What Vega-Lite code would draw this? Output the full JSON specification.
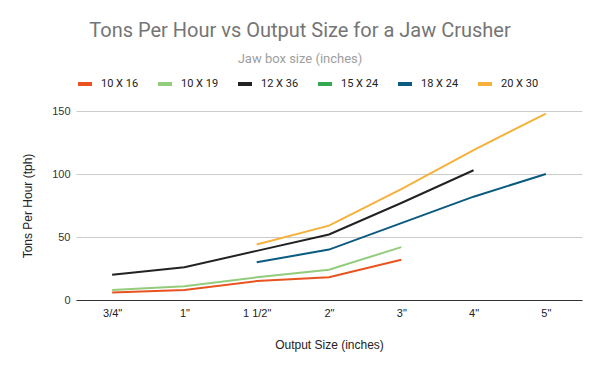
{
  "$schema": "https://vega.github.io/schema/vega-lite/v6.json",
  "autosize": {"type": "none"},
  "width": 506,
  "height": 189,
  "padding": {"left": 76, "top": 111, "right": 18, "bottom": 71},
  "background": "white",
  "title": {
    "text": "Tons Per Hour vs Output Size for a Jaw Crusher",
    "subtitle": "Jaw box size (inches)",
    "anchor": "middle",
    "dx": -29,
    "offset": 9,
    "font": "Roboto",
    "fontSize": 20,
    "fontWeight": "normal",
    "color": "#757575",
    "subtitleFont": "Roboto",
    "subtitleFontSize": 13,
    "subtitleColor": "#9e9e9e",
    "subtitlePadding": 12
  },
  "data": {
    "values": [
      {"size": "3/4\"", "jaw": "10 X 16", "tph": 6},
      {"size": "1\"", "jaw": "10 X 16", "tph": 8},
      {"size": "1 1/2\"", "jaw": "10 X 16", "tph": 15},
      {"size": "2\"", "jaw": "10 X 16", "tph": 18},
      {"size": "3\"", "jaw": "10 X 16", "tph": 32},
      {"size": "3/4\"", "jaw": "10 X 19", "tph": 8},
      {"size": "1\"", "jaw": "10 X 19", "tph": 11},
      {"size": "1 1/2\"", "jaw": "10 X 19", "tph": 18},
      {"size": "2\"", "jaw": "10 X 19", "tph": 24},
      {"size": "3\"", "jaw": "10 X 19", "tph": 42},
      {"size": "3/4\"", "jaw": "12 X 36", "tph": 20},
      {"size": "1\"", "jaw": "12 X 36", "tph": 26},
      {"size": "1 1/2\"", "jaw": "12 X 36", "tph": 39},
      {"size": "2\"", "jaw": "12 X 36", "tph": 52},
      {"size": "3\"", "jaw": "12 X 36", "tph": 77},
      {"size": "4\"", "jaw": "12 X 36", "tph": 103},
      {"size": "1 1/2\"", "jaw": "18 X 24", "tph": 30},
      {"size": "2\"", "jaw": "18 X 24", "tph": 40},
      {"size": "3\"", "jaw": "18 X 24", "tph": 61},
      {"size": "4\"", "jaw": "18 X 24", "tph": 82},
      {"size": "5\"", "jaw": "18 X 24", "tph": 100},
      {"size": "1 1/2\"", "jaw": "20 X 30", "tph": 44},
      {"size": "2\"", "jaw": "20 X 30", "tph": 59},
      {"size": "3\"", "jaw": "20 X 30", "tph": 88},
      {"size": "4\"", "jaw": "20 X 30", "tph": 119},
      {"size": "5\"", "jaw": "20 X 30", "tph": 148}
    ]
  },
  "mark": {"type": "line", "strokeWidth": 2},
  "encoding": {
    "x": {
      "field": "size",
      "type": "ordinal",
      "sort": ["3/4\"", "1\"", "1 1/2\"", "2\"", "3\"", "4\"", "5\""],
      "scale": {"type": "point", "padding": 0.5},
      "axis": {
        "title": "Output Size (inches)",
        "titleFont": "Liberation Sans",
        "titleFontSize": 12,
        "titleFontWeight": "normal",
        "titleColor": "#222222",
        "titlePadding": 21,
        "labelFont": "Liberation Sans",
        "labelFontSize": 11,
        "labelColor": "#222222",
        "labelPadding": 7,
        "labelAngle": 0,
        "ticks": false,
        "domainColor": "#333333",
        "domainWidth": 1,
        "grid": false
      }
    },
    "y": {
      "field": "tph",
      "type": "quantitative",
      "scale": {"domain": [0, 150], "nice": false},
      "axis": {
        "title": "Tons Per Hour (tph)",
        "values": [0, 50, 100, 150],
        "titleFont": "Liberation Sans",
        "titleFontSize": 12,
        "titleFontWeight": "normal",
        "titleColor": "#222222",
        "titlePadding": 17,
        "labelFont": "Liberation Sans",
        "labelFontSize": 11,
        "labelColor": "#333333",
        "labelPadding": 6,
        "ticks": false,
        "domain": false,
        "gridColor": "#cccccc",
        "gridWidth": 1
      }
    },
    "color": {
      "field": "jaw",
      "type": "nominal",
      "scale": {
        "domain": ["10 X 16", "10 X 19", "12 X 36", "15 X 24", "18 X 24", "20 X 30"],
        "range": ["#e8531f", "#93cc7c", "#222222", "#34a853", "#0b5a80", "#f6b13c"]
      },
      "legend": {
        "title": null,
        "orient": "none",
        "legendX": 0,
        "legendY": -36,
        "direction": "horizontal",
        "gridAlign": "all",
        "columnPadding": 11,
        "symbolType": "stroke",
        "symbolSize": 196,
        "symbolStrokeWidth": 4,
        "labelFont": "Roboto",
        "labelFontSize": 11,
        "labelColor": "#222222",
        "labelOffset": 7
      }
    }
  },
  "config": {"view": {"stroke": null}}
}
